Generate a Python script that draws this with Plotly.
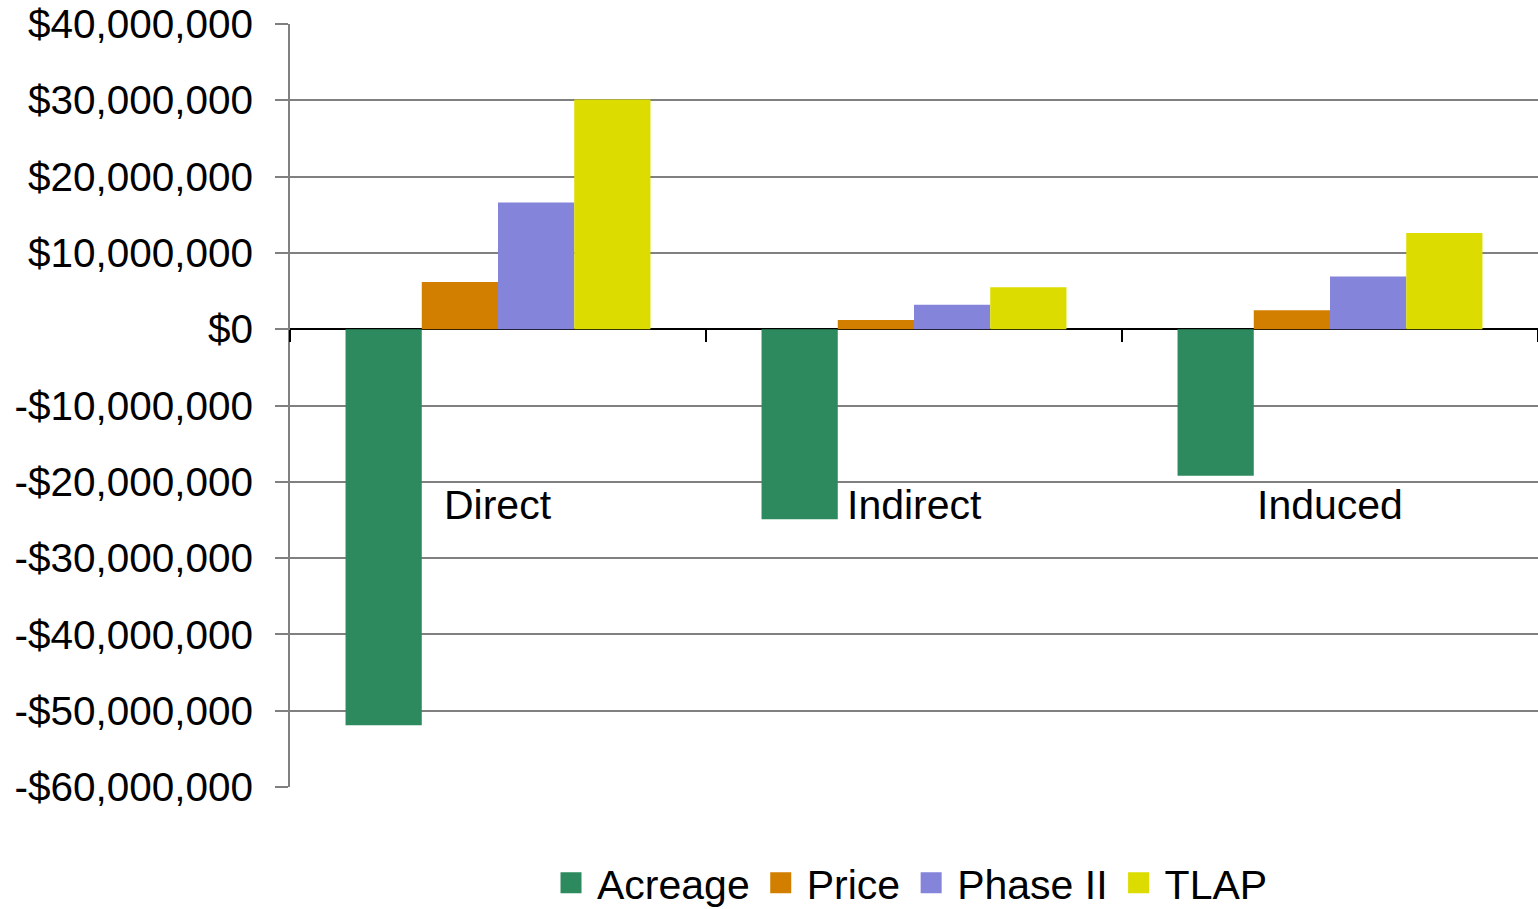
import plotly.graph_objects as go

categories = ["Direct", "Indirect", "Induced"]
series_names = ["Acreage", "Price", "Phase II", "TLAP"]
acreage = [-51.9e6, -24.9e6, -19.2e6]
price = [6.2e6, 1.2e6, 2.5e6]
phase2 = [16.6e6, 3.2e6, 6.9e6]
tlap = [30.1e6, 5.5e6, 12.6e6]
colors = ["#2D8A5E", "#D27F00", "#8484DA", "#DCDC00"]
tick_vals = [40e6, 30e6, 20e6, 10e6, 0, -10e6, -20e6, -30e6, -40e6, -50e6, -60e6]
tick_text = ["$40,000,000", "$30,000,000", "$20,000,000", "$10,000,000", "$0",
             "-$10,000,000", "-$20,000,000", "-$30,000,000", "-$40,000,000",
             "-$50,000,000", "-$60,000,000"]
y_min, y_max = -60e6, 40e6
label_y = -23.1e6

FONT = "Liberation Sans, Arial, sans-serif"
FS = 41
fig = go.Figure()
for name, vals, col in zip(series_names, [acreage, price, phase2, tlap], colors):
    fig.add_trace(go.Bar(x=categories, y=vals, name=name, marker_color=col,
                         marker_line_width=0, showlegend=False))
for name, col in zip(series_names, colors):
    fig.add_trace(go.Scatter(x=[None], y=[None], mode="markers", name=name,
                             marker=dict(symbol="square", size=16, color=col,
                                         line=dict(width=5, color=col))))

for c in categories:
    fig.add_annotation(x=c, y=label_y, xref="x", yref="y", text=c, showarrow=False,
                       font=dict(family=FONT, size=FS, color="black"))

fig.update_layout(
    width=1538, height=909,
    margin=dict(l=290, r=0, t=24, b=122, autoexpand=False),
    plot_bgcolor="white", paper_bgcolor="white",
    barmode="group", bargap=0.267, bargroupgap=0,
    font=dict(family=FONT, size=FS, color="black"),
    legend=dict(orientation="h", x=0.496, xanchor="center", y=-0.126, yanchor="middle",
                font=dict(family=FONT, size=FS, color="black"),
                itemsizing="trace", itemwidth=42, tracegroupgap=0),
    showlegend=True,
)
fig.update_xaxes(showgrid=False, showticklabels=False, ticks="outside", ticklen=12,
                 tickcolor="black", tickwidth=1.5, tickson="boundaries",
                 anchor="free", position=(0 - y_min) / (y_max - y_min),
                 showline=False, zeroline=False)
fig.update_yaxes(range=[y_min, y_max], tickvals=tick_vals, ticktext=tick_text,
                 showgrid=True, gridcolor="#808080", gridwidth=1.5,
                 zeroline=True, zerolinecolor="black", zerolinewidth=2,
                 showline=True, linecolor="#808080", linewidth=1.5,
                 ticks="outside", ticklen=13, tickcolor="#808080", tickwidth=1.5,
                 ticklabelstandoff=14,
                 tickfont=dict(family=FONT, size=40.5, color="black"))

fig.write_html("out.html", config={"displayModeBar": False},
               post_script="document.body.style.margin='0';document.body.style.overflow='hidden';")
